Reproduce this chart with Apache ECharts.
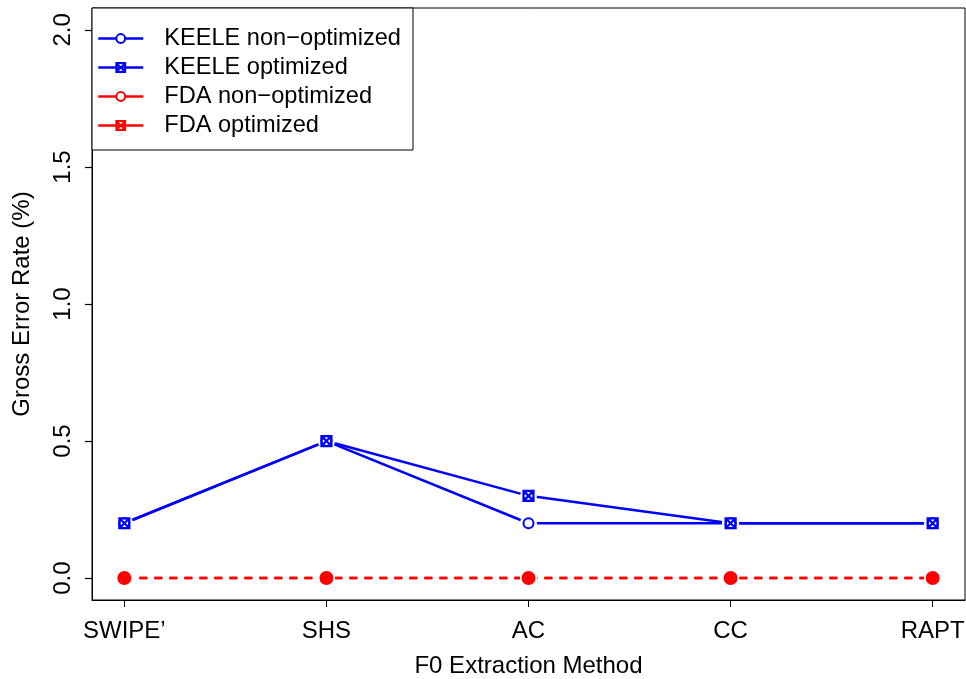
<!DOCTYPE html>
<html>
<head>
<meta charset="utf-8">
<script src="https://cdn.jsdelivr.net/npm/echarts@6/dist/echarts.min.js"></script>
<style>html,body{margin:0;padding:0;background:#fff}#c{width:966px;height:679px}</style>
</head>
<body>
<div id="c"></div>
<script>
var categories = ["SWIPE\u2019", "SHS", "AC", "CC", "RAPT"];
var keeleNonOpt = [0.2, 0.5, 0.2, 0.2, 0.2];
var keeleOpt = [0.2, 0.5, 0.3, 0.2, 0.2];
var fdaNonOpt = [0, 0, 0, 0, 0];
var fdaOpt = [0, 0, 0, 0, 0];
var yTicks = [0, 0.5, 1.0, 1.5, 2.0];
var seriesNames = ["KEELE non\u2212optimized", "KEELE optimized", "FDA non\u2212optimized", "FDA optimized"];

var FONT = "'Liberation Sans', Arial, Helvetica, sans-serif";
var BLUE = "#0000ff", RED = "#ff0000";
var xTicks = categories.map(function (c, i) { return i; });
function pts(arr) { return arr.map(function (v, i) { return [i, v]; }); }

var OPT_SYMBOL = 'path://M0,0L10,0L10,10L0,10Z M0,0L10,10 M10,0L0,10 M5,0A5,5 0 1 1 5,10A5,5 0 1 1 5,0Z';

var allVals = [keeleNonOpt, keeleOpt, fdaNonOpt, fdaOpt];
var haloData = [];
allVals.forEach(function (a) { a.forEach(function (v, i) { haloData.push([i, v]); }); });

var styles = [
  {color: BLUE, dash: 'solid', symbol: 'circle', opt: false},
  {color: BLUE, dash: 'solid', symbol: OPT_SYMBOL, opt: true},
  {color: RED, dash: [8, 7], symbol: 'circle', opt: false},
  {color: RED, dash: [8, 7], symbol: OPT_SYMBOL, opt: true}
];

var series = [];
allVals.forEach(function (arr, k) {
  var s = styles[k];
  series.push({
    name: seriesNames[k], type: 'line', data: pts(arr), z: 2,
    symbol: s.symbol, symbolSize: 10, showSymbol: true,
    lineStyle: {color: s.color, width: 2.5, type: s.dash},
    itemStyle: {color: s.opt ? 'none' : '#fff', borderColor: s.color, borderWidth: 2}
  });
});
series.push({
  name: '_halo', type: 'scatter', data: haloData, zlevel: 1, z: 1, symbol: 'circle', symbolSize: 17,
  itemStyle: {color: '#ffffff', opacity: 1}, silent: true
});
allVals.forEach(function (arr, k) {
  var s = styles[k];
  var fda = k >= 2;
  series.push({
    name: '_m' + k, type: 'scatter', data: pts(arr), zlevel: 2, z: 1 + k,
    symbol: fda ? 'circle' : s.symbol, symbolSize: fda ? 12 : 10, silent: true,
    itemStyle: fda ? (k === 3 ? {color: RED, borderColor: RED, borderWidth: 0, opacity: 1}
                               : {color: '#fff', borderColor: RED, borderWidth: 2, opacity: 1})
                   : {color: s.opt ? 'none' : '#fff', borderColor: s.color, borderWidth: s.opt ? 2.2 : 2, opacity: 1}
  });
});

var chart = echarts.init(document.getElementById('c'), null, {renderer: 'canvas'});
chart.setOption({
  animation: false,
  backgroundColor: '#fff',
  textStyle: {fontFamily: FONT},
  grid: {left: 92, right: 1, top: 8, bottom: 79, show: true, borderColor: '#000', borderWidth: 1,
    backgroundColor: 'transparent', containLabel: false, outerBoundsMode: 'none'},
  legend: {
    data: seriesNames.map(function (n, k) {
      return {name: n, lineStyle: {type: 'solid', width: 2.5, color: styles[k].color}};
    }),
    orient: 'vertical', left: 92, top: 8, zlevel: 3,
    padding: [16, 12, 10, 5],
    itemWidth: 45, itemHeight: 11, itemGap: 0,
    backgroundColor: '#fff', borderColor: '#000', borderWidth: 1, borderRadius: 0,
    textStyle: {fontFamily: FONT, fontSize: 23.6, color: '#000', lineHeight: 29, padding: [0, 0, 0, 16]},
    selectedMode: false
  },
  xAxis: {
    type: 'value', min: -0.16, max: 4.16,
    name: 'F0 Extraction Method', nameLocation: 'middle', nameGap: 54,
    nameTextStyle: {fontFamily: FONT, fontSize: 24, color: '#000'},
    axisLine: {show: true, onZero: false, lineStyle: {color: '#000', width: 1}},
    splitLine: {show: false},
    axisTick: {show: true, customValues: xTicks, length: 7, inside: false, lineStyle: {color: '#000', width: 1}},
    axisLabel: {customValues: xTicks, margin: 19, fontFamily: FONT, fontSize: 24, color: '#000',
      formatter: function (v) { return categories[Math.round(v)]; }}
  },
  yAxis: {
    type: 'value', min: -0.08, max: 2.08, position: 'left',
    name: 'Gross Error Rate (%)', nameLocation: 'middle', nameGap: 58, nameRotate: 90,
    nameTextStyle: {fontFamily: FONT, fontSize: 24, color: '#000'},
    axisLine: {show: true, onZero: false, lineStyle: {color: '#000', width: 1}},
    splitLine: {show: false},
    axisTick: {show: true, customValues: yTicks, length: 7, inside: false, lineStyle: {color: '#000', width: 1.2}},
    axisLabel: {customValues: yTicks, rotate: 90, margin: 17, fontFamily: FONT, fontSize: 24, color: '#000',
      formatter: function (v) { return v.toFixed(1); }}
  },
  series: series
});
</script>
</body>
</html>
